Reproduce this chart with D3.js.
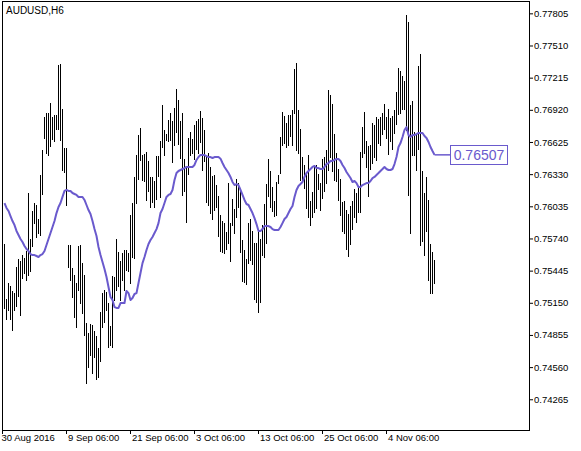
<!DOCTYPE html>
<html><head><meta charset="utf-8">
<script src="https://cdn.jsdelivr.net/npm/d3@7"></script>
<style>body{margin:0;background:#fff}svg{display:block}text{font-family:"Liberation Sans",Arial,sans-serif}</style>
</head><body><svg id="c" width="581" height="451"></svg>
<script>
const symbol = "AUDUSD,H6";
const lastLabel = "0.76507";
const xTickIndex = [-1, 31, 63, 95, 127, 159, 191];
const xTickLabels = ["30 Aug 2016","9 Sep 06:00","21 Sep 06:00","3 Oct 06:00","13 Oct 06:00","25 Oct 06:00","4 Nov 06:00"];
const yTickValues = [0.77805,0.77510,0.77215,0.76920,0.76625,0.76330,0.76035,0.75740,0.75445,0.75150,0.74855,0.74560,0.74265];

const high = [
0.75689,0.75184,0.75331,0.75304,0.75258,0.75239,0.75478,0.75551,0.75533,0.75588,
0.75561,0.75625,0.76157,0.75735,0.75992,0.76065,0.76047,0.75918,0.76322,0.76551,
0.76854,0.76890,0.76890,0.76982,0.76854,0.76872,0.76872,0.77331,0.77337,0.76927,
0.76570,0.76570,0.75680,0.75680,0.75469,0.75405,0.75331,0.75671,0.75680,0.75514,
0.75405,0.74964,0.74873,0.74955,0.74946,0.74892,0.74846,0.74736,0.75066,0.75239,
0.75267,0.75249,0.75148,0.74937,0.75396,0.75387,0.75735,0.75616,0.75533,0.75606,
0.75634,0.75634,0.75606,0.75955,0.76065,0.76304,0.76505,0.76689,0.76754,0.76505,
0.76514,0.76533,0.76451,0.76304,0.76304,0.76267,0.76496,0.76496,0.76634,0.76964,
0.76735,0.76698,0.76827,0.76890,0.76818,0.76937,0.77110,0.77010,0.76818,0.76890,
0.76468,0.76396,0.76662,0.76717,0.76652,0.76781,0.76818,0.76835,0.76909,0.76845,
0.76735,0.76487,0.76523,0.76396,0.76313,0.76322,0.76230,0.76130,0.75955,0.75900,
0.75881,0.75800,0.76248,0.75881,0.76102,0.76010,0.76285,0.76248,0.76176,0.75726,
0.75634,0.75551,0.75881,0.75918,0.75809,0.75698,0.75698,0.75826,0.75735,0.75863,
0.76056,0.76239,0.76468,0.76359,0.76212,0.76084,0.76258,0.76322,0.76671,0.76900,
0.76863,0.76799,0.76872,0.76872,0.76918,0.77294,0.77349,0.76918,0.76744,0.76487,
0.76414,0.76340,0.76505,0.76084,0.76167,0.76414,0.76414,0.76331,0.76248,0.76468,
0.76487,0.76551,0.77102,0.77056,0.76973,0.76698,0.76523,0.76377,0.76285,0.76075,
0.76084,0.76001,0.75964,0.76038,0.76084,0.76193,0.76157,0.76212,0.76533,0.76763,
0.76900,0.76634,0.76588,0.76597,0.76799,0.76781,0.76854,0.76835,0.76854,0.76890,
0.76973,0.76854,0.76927,0.76845,0.76863,0.76918,0.77084,0.77304,0.77276,0.77230,
0.77184,0.77789,0.77726,0.76964,0.77001,0.76717,0.76689,0.77322,0.77431,0.76359,
0.76157,0.76304,0.76093,0.75689,0.75616,0.75542];

const low = [
0.75103,0.75001,0.75084,0.75001,0.74901,0.75084,0.75121,0.75212,0.75038,0.75378,
0.75423,0.75359,0.75405,0.75442,0.75671,0.75881,0.75754,0.75790,0.75772,0.76148,
0.76662,0.76523,0.76505,0.76588,0.76652,0.76634,0.76744,0.76744,0.76643,0.76368,
0.76350,0.76047,0.75478,0.75359,0.75203,0.75020,0.74928,0.75267,0.75148,0.75056,
0.74855,0.74414,0.74561,0.74671,0.74506,0.74653,0.74451,0.74470,0.74616,0.74928,
0.74974,0.75084,0.74745,0.74763,0.74745,0.75176,0.75267,0.75304,0.75176,0.75359,
0.75267,0.75451,0.75442,0.75331,0.75570,0.75561,0.76065,0.76285,0.76460,0.76276,
0.76267,0.76093,0.76176,0.76029,0.76075,0.76029,0.76102,0.76313,0.76121,0.76579,
0.76505,0.76643,0.76634,0.76643,0.76442,0.76597,0.76717,0.76606,0.76478,0.76139,
0.76176,0.75891,0.76331,0.76505,0.76523,0.76468,0.76560,0.76523,0.76625,0.76368,
0.76451,0.76075,0.76047,0.75973,0.75918,0.76001,0.76029,0.75763,0.75625,0.75616,
0.75606,0.75643,0.75698,0.75533,0.75863,0.75790,0.75937,0.76029,0.75616,0.75350,
0.75341,0.75322,0.75514,0.75542,0.75505,0.75184,0.75158,0.75066,0.75158,0.75588,
0.75570,0.75698,0.76130,0.76029,0.75992,0.75946,0.75955,0.76248,0.76340,0.76597,
0.76615,0.76579,0.76597,0.76680,0.76597,0.76890,0.76551,0.76523,0.76276,0.76267,
0.76203,0.76020,0.75937,0.75863,0.75937,0.75983,0.76020,0.76193,0.76001,0.76112,
0.76176,0.76248,0.76368,0.76487,0.76359,0.76276,0.76267,0.76093,0.75955,0.75809,
0.75790,0.75643,0.75579,0.75689,0.75826,0.75937,0.75891,0.75983,0.75983,0.76487,
0.76523,0.76396,0.76130,0.76377,0.76432,0.76487,0.76460,0.76615,0.76597,0.76698,
0.76744,0.76662,0.76514,0.76634,0.76560,0.76707,0.76790,0.76881,0.76890,0.76927,
0.76927,0.76735,0.76139,0.75790,0.76505,0.76505,0.76368,0.76560,0.75680,0.75717,
0.75588,0.75809,0.75359,0.75239,0.75239,0.75331];

const ma = [
0.76065,0.76020,0.75992,0.75946,0.75900,0.75863,0.75809,0.75772,0.75735,0.75708,
0.75671,0.75643,0.75625,0.75597,0.75588,0.75588,0.75579,0.75570,0.75588,0.75597,
0.75625,0.75680,0.75735,0.75790,0.75845,0.75900,0.75973,0.76029,0.76065,0.76121,
0.76176,0.76185,0.76176,0.76176,0.76157,0.76148,0.76139,0.76121,0.76121,0.76121,
0.76093,0.76047,0.76001,0.75964,0.75900,0.75826,0.75763,0.75662,0.75588,0.75524,
0.75460,0.75387,0.75295,0.75203,0.75176,0.75111,0.75103,0.75103,0.75148,0.75148,
0.75148,0.75258,0.75239,0.75176,0.75194,0.75231,0.75239,0.75331,0.75423,0.75514,
0.75570,0.75634,0.75689,0.75726,0.75754,0.75790,0.75826,0.75881,0.75973,0.76010,
0.76065,0.76121,0.76139,0.76148,0.76185,0.76276,0.76340,0.76359,0.76368,0.76377,
0.76386,0.76396,0.76396,0.76396,0.76396,0.76414,0.76460,0.76487,0.76505,0.76505,
0.76505,0.76496,0.76487,0.76487,0.76478,0.76487,0.76487,0.76487,0.76472,0.76432,
0.76396,0.76368,0.76340,0.76304,0.76258,0.76230,0.76239,0.76230,0.76185,0.76139,
0.76093,0.76056,0.76047,0.76010,0.75973,0.75927,0.75872,0.75809,0.75809,0.75826,
0.75854,0.75854,0.75854,0.75845,0.75826,0.75818,0.75818,0.75818,0.75845,0.75881,
0.75918,0.75937,0.75973,0.76010,0.76038,0.76121,0.76185,0.76221,0.76239,0.76258,
0.76304,0.76340,0.76359,0.76377,0.76396,0.76405,0.76386,0.76386,0.76377,0.76377,
0.76396,0.76423,0.76432,0.76451,0.76451,0.76460,0.76469,0.76469,0.76451,0.76414,
0.76386,0.76350,0.76322,0.76294,0.76258,0.76267,0.76248,0.76212,0.76212,0.76230,
0.76239,0.76248,0.76248,0.76267,0.76294,0.76304,0.76322,0.76340,0.76359,0.76377,
0.76396,0.76377,0.76368,0.76368,0.76377,0.76423,0.76487,0.76579,0.76615,0.76671,
0.76735,0.76762,0.76689,0.76671,0.76689,0.76689,0.76698,0.76708,0.76708,0.76708,
0.76680,0.76662,0.76625,0.76579,0.76542,0.76507];

const svg = d3.select("#c");
const N = high.length;
const x = d3.scaleLinear().domain([-1, N - 1]).range([2, 2 + 2 * N]);
const y = d3.scaleLinear().domain([0.73974, 0.77909]).range([431, 2]);
const maColor = "#6a5acd";

const plot = svg.append("g");
// bars (high-low)
plot.selectAll("rect.bar").data(d3.range(N)).join("rect")
  .attr("class", "bar")
  .attr("x", i => x(i))
  .attr("y", i => Math.round(y(high[i])))
  .attr("width", 1)
  .attr("height", i => Math.max(1, Math.round(y(low[i])) - Math.round(y(high[i])) + 1))
  .attr("fill", "#000")
  .attr("shape-rendering", "crispEdges");

// moving average
const line = d3.line().x((d, i) => x(i) + 0.5).y(d => y(d));
plot.append("path").datum(ma)
  .attr("d", line)
  .attr("fill", "none")
  .attr("stroke", maColor)
  .attr("stroke-width", 2)
  .attr("stroke-linejoin", "round");

// last value label
const lastY = y(ma[N - 1]);
const boxX = 450.5, boxW = 57, boxH = 19;
svg.append("line")
  .attr("x1", x(N - 1) + 0.5).attr("x2", boxX)
  .attr("y1", lastY).attr("y2", lastY)
  .attr("stroke", maColor).attr("stroke-width", 1.5);
svg.append("rect")
  .attr("x", boxX).attr("y", Math.round(lastY - boxH / 2) + 0.5)
  .attr("width", boxW).attr("height", boxH)
  .attr("fill", "#fff").attr("stroke", maColor).attr("stroke-width", 1);
svg.append("text")
  .attr("x", boxX + boxW / 2).attr("y", Math.round(lastY - boxH / 2) + 0.5 + boxH / 2 + 5)
  .attr("text-anchor", "middle")
  .attr("font-size", "14px")
  .attr("fill", maColor)
  .text(lastLabel);

// frame
const frame = svg.append("g").attr("stroke", "#000").attr("stroke-width", 1).attr("shape-rendering", "crispEdges");
frame.append("line").attr("x1", 2.5).attr("x2", 2.5).attr("y1", 1).attr("y2", 431);
frame.append("line").attr("x1", 2).attr("x2", 530).attr("y1", 1.5).attr("y2", 1.5);
frame.append("line").attr("x1", 529.5).attr("x2", 529.5).attr("y1", 1).attr("y2", 431);
frame.append("line").attr("x1", 2).attr("x2", 530).attr("y1", 430.5).attr("y2", 430.5);

// y axis (right)
const yAxis = svg.append("g").attr("transform", "translate(529,0)")
  .call(d3.axisRight(y).tickValues(yTickValues).tickSize(4).tickPadding(1).tickFormat(d3.format(".5f")));
yAxis.select(".domain").remove();
yAxis.selectAll("text").attr("font-size", "9.5px").attr("fill", "#000")
  .attr("font-family", '"Liberation Sans",Arial,sans-serif');
yAxis.selectAll("line").attr("stroke", "#000");

// x axis (bottom)
const xAxis = svg.append("g").attr("transform", "translate(0,430)")
  .call(d3.axisBottom(x).tickValues(xTickIndex).tickSize(4).tickFormat((d, i) => xTickLabels[i]));
xAxis.select(".domain").remove();
xAxis.selectAll("line").attr("stroke", "#000");
xAxis.selectAll("text")
  .attr("text-anchor", "start")
  .attr("x", (d, i) => i === 0 ? -1 : 1.5)
  .attr("y", 4)
  .attr("font-size", "9.5px").attr("fill", "#000")
  .attr("font-family", '"Liberation Sans",Arial,sans-serif');

// symbol title
svg.append("text").attr("x", 6).attr("y", 14)
  .attr("font-size", "10px").attr("fill", "#000")
  .text(symbol);
</script></body></html>
